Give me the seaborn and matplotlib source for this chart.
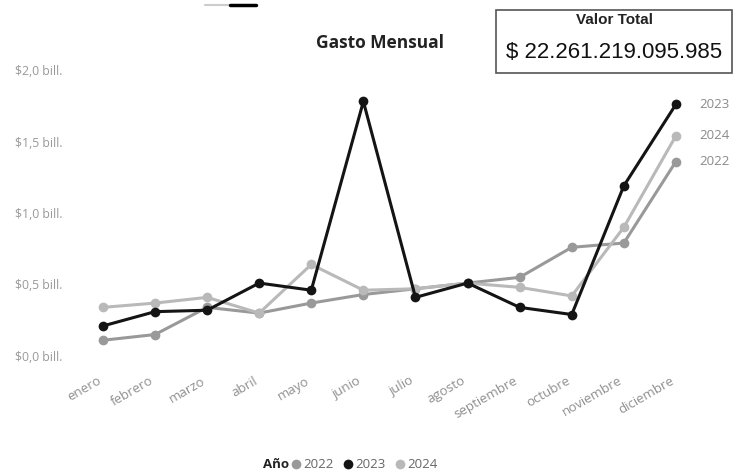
import numpy as np
import pandas as pd
import seaborn as sns
import matplotlib
matplotlib.use("Agg")
import matplotlib.pyplot as plt
import matplotlib.transforms as mtransforms
from matplotlib.lines import Line2D
from matplotlib.patches import Rectangle

# ---- data (billones de $) ----
meses = ["enero", "febrero", "marzo", "abril", "mayo", "junio", "julio",
         "agosto", "septiembre", "octubre", "noviembre", "diciembre"]
gasto_2022 = [0.11, 0.15, 0.34, 0.30, 0.37, 0.43, 0.47, 0.51, 0.55, 0.76, 0.79, 1.36]
gasto_2023 = [0.21, 0.31, 0.32, 0.51, 0.46, 1.78, 0.41, 0.51, 0.34, 0.29, 1.19, 1.76]
gasto_2024 = [0.34, 0.37, 0.41, 0.30, 0.64, 0.46, 0.47, 0.51, 0.48, 0.42, 0.90, 1.54]
anios = ["2022", "2023", "2024"]
y_ticks = [0.0, 0.5, 1.0, 1.5, 2.0]
y_labels = ["$0,0 bill.", "$0,5 bill.", "$1,0 bill.", "$1,5 bill.", "$2,0 bill."]
titulo = "Gasto Mensual"
kpi_titulo = "Valor Total"
kpi_valor = "$ 22.261.219.095.985"

df = pd.DataFrame({
    "Mes": meses * 3,
    "Gasto": gasto_2022 + gasto_2023 + gasto_2024,
    "Año": sum([[a] * len(meses) for a in anios], []),
})

colores = {"2022": "#999999", "2023": "#141414", "2024": "#b9b9b9"}

sns.set_theme(style="white")
plt.rcParams["font.family"] = ["Open Sans", "DejaVu Sans"]

W, H = 735, 474
fig = plt.figure(figsize=(W / 100, H / 100), dpi=100)
l, r, t, b = 80, 690, 60, 370
ax = fig.add_axes([l / W, 1 - b / H, (r - l) / W, (b - t) / H])

for a in ["2022", "2024", "2023"]:
    sub = df[df["Año"] == a]
    sns.lineplot(data=sub, x="Mes", y="Gasto", color=colores[a], marker="o",
                 markersize=7, markeredgewidth=0, linewidth=2.2, sort=False,
                 ax=ax, legend=False, zorder=3 if a == "2023" else 2)

ax.set_xlim(-0.44, 11.27)
ax.set_ylim(-0.098, 2.07)
ax.set_xlabel("")
ax.set_ylabel("")
for s in ax.spines.values():
    s.set_visible(False)
ax.grid(False)

ax.set_yticks(y_ticks)
ax.set_yticklabels(y_labels)
ax.tick_params(axis="y", length=0, pad=47, labelsize=8.8, labelcolor="#999999")
for lab in ax.get_yticklabels():
    lab.set_ha("left")

ax.set_xticks(range(len(meses)))
ax.set_xticklabels(meses)
ax.tick_params(axis="x", length=0, pad=3, labelsize=9.5, labelcolor="#8f8f8f")
offset = mtransforms.ScaledTranslation(-6 / 100, 0, fig.dpi_scale_trans)
for lab in ax.get_xticklabels():
    lab.set_rotation(30)
    lab.set_ha("right")
    lab.set_va("top")
    lab.set_rotation_mode("anchor")
    lab.set_transform(lab.get_transform() + offset)

# end labels
for a, vals in zip(anios, [gasto_2022, gasto_2023, gasto_2024]):
    ax.annotate(a, xy=(len(meses) - 1, vals[-1]), xytext=(17, 0),
                textcoords="offset points", va="center", ha="left",
                fontsize=9.5, color="#8a8a8a", annotation_clip=False)

# title
fig.text(380 / W, 1 - 43 / H, titulo, ha="center", va="center",
         fontsize=12.5, fontweight="bold", color="#222222")

# KPI box
fig.patches.append(Rectangle((496 / W, 1 - 73 / H), (732 - 496) / W, (73 - 10) / H,
                             transform=fig.transFigure, fill=False,
                             edgecolor="#555555", linewidth=1.2))
fig.text(614 / W, 1 - 20 / H, kpi_titulo, ha="center", va="center",
         fontsize=11, fontweight="bold", color="#222222", family="Liberation Sans")
fig.text(614 / W, 1 - 52 / H, kpi_valor, ha="center", va="center",
         fontsize=16, color="#111111", family="Liberation Sans")

# small decorative lines at top
fig.add_artist(Line2D([205 / W, 230 / W], [1 - 5 / H, 1 - 5 / H],
                      color="#cccccc", linewidth=1.5, transform=fig.transFigure))
fig.add_artist(Line2D([230 / W, 256 / W], [1 - 5 / H, 1 - 5 / H],
                      color="#000000", linewidth=2.5, transform=fig.transFigure))

# legend
fig.text(263 / W, 1 - 465 / H, "Año", ha="left", va="center",
         fontsize=9.5, fontweight="bold", color="#222222")
handles = [Line2D([], [], marker="o", linestyle="", markersize=7,
                  markerfacecolor=colores[a], markeredgewidth=0) for a in anios]
leg = fig.legend(handles, anios, loc="center left",
                 bbox_to_anchor=(291 / W, 1 - 465 / H), ncol=3, frameon=False,
                 handlelength=0.8, handletextpad=0.15, columnspacing=0.7,
                 fontsize=9.5, borderpad=0, borderaxespad=0)
for txt in leg.get_texts():
    txt.set_color("#666666")

fig.savefig("out.png", dpi=100, facecolor="white")
